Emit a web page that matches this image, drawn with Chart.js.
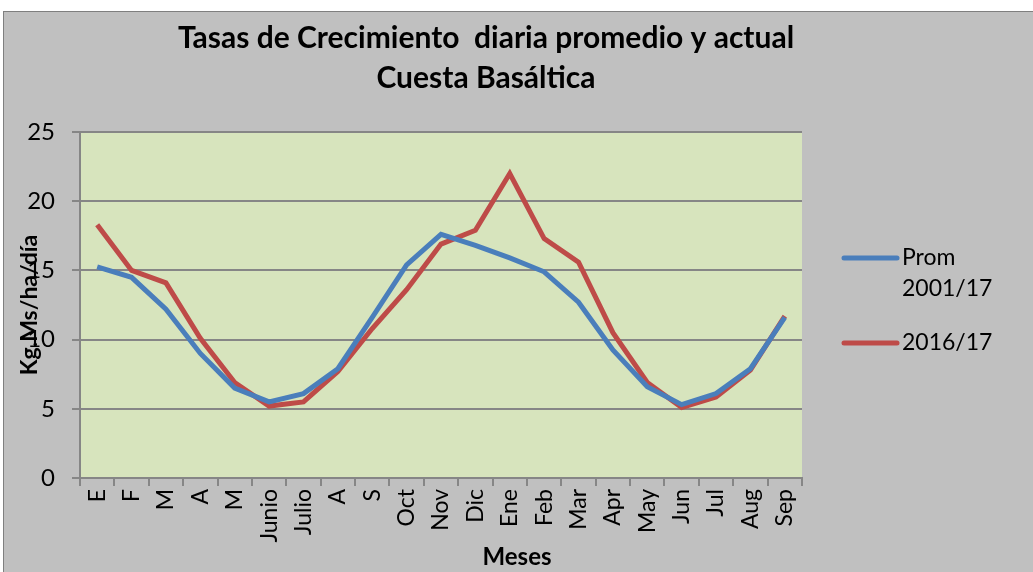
<!DOCTYPE html>
<html>
<head>
<meta charset="utf-8">
<script src="https://cdn.jsdelivr.net/npm/chart.js@4.4.1/dist/chart.umd.min.js"></script>
<style>
  html, body { margin: 0; padding: 0; background: #ffffff; }
  #frame {
    position: absolute; left: 3px; top: 11px;
    width: 1030px; height: 561px;
    border-left: 1px solid #7f7f7f; border-top: 1px solid #7f7f7f;
    background: #c0c0c0;
  }
  #chart { display: block; }
</style>
</head>
<body>
<div id="frame"><canvas id="chart" width="1030" height="561"></canvas></div>
<script>
// chart data
const months = ["E", "F", "M", "A", "M", "Junio", "Julio", "A", "S", "Oct", "Nov",
                "Dic", "Ene", "Feb", "Mar", "Apr", "May", "Jun", "Jul", "Aug", "Sep"];
const promValues = [15.25, 14.5, 12.2, 9.0, 6.5, 5.5, 6.1, 7.9, 11.6, 15.4, 17.6,
                    16.8, 15.9, 14.9, 12.7, 9.25, 6.6, 5.3, 6.1, 7.9, 11.6];
const actualValues = [18.3, 15.0, 14.1, 10.1, 6.9, 5.2, 5.5, 7.7, 10.8, 13.6, 16.9,
                      17.9, 22.0, 17.3, 15.6, 10.5, 6.9, 5.1, 5.85, 7.8, 11.7];
const yTicks = [0, 5, 10, 15, 20, 25];
const titleLines = ["Tasas de Crecimiento  diaria promedio y actual", "Cuesta Basáltica"];
const legendLabels = [["Prom", "2001/17"], ["2016/17"]];
const xTitle = "Meses";

const FONT = "Lato, 'Open Sans', sans-serif";

// plot area background + title + legend + x title drawn by hand
const decorPlugin = {
    id: "decor",
    beforeDraw(chart) {
        const ctx = chart.ctx;
        const a = chart.chartArea;
        ctx.save();
        ctx.fillStyle = "#d7e4bd";
        ctx.fillRect(a.left, a.top, a.right - a.left, a.bottom - a.top);
        ctx.restore();
    },
    afterDraw(chart) {
        const ctx = chart.ctx;
        ctx.save();
        // title
        ctx.fillStyle = "#000";
        ctx.font = "bold 30px " + FONT;
        ctx.textAlign = "center";
        ctx.textBaseline = "middle";
        titleLines.forEach((t, i) => ctx.fillText(t, 482, 26 + i * 40));

        // x axis title
        ctx.font = "bold 24px " + FONT;
        ctx.fillText(xTitle, 513, 545);

        // legend
        ctx.font = "23px " + FONT;
        ctx.textAlign = "left";
        const ys = [246, 331];
        chart.data.datasets.forEach((ds, i) => {
            ctx.strokeStyle = ds.borderColor;
            ctx.lineWidth = 5;
            ctx.lineCap = "round";
            ctx.beginPath();
            ctx.moveTo(840, ys[i]);
            ctx.lineTo(893, ys[i]);
            ctx.stroke();
            legendLabels[i].forEach((txt, j) => {
                ctx.fillText(txt, 898, ys[i] + j * 31);
            });
        });
        ctx.restore();
    }
};

const ctx = document.getElementById("chart").getContext("2d");
const chart = new Chart(ctx, {
    type: "line",
    data: {
        labels: months,
        datasets: [
            {
                label: "Prom 2001/17",
                data: promValues,
                borderColor: "#4a7ebb",
                borderWidth: 5,
                pointRadius: 0,
                tension: 0
            },
            {
                label: "2016/17",
                data: actualValues,
                borderColor: "#be4b48",
                borderWidth: 5,
                pointRadius: 0,
                tension: 0
            }
        ]
    },
    options: {
        responsive: false,
        animation: false,
        layout: { padding: { top: 120, left: 0, right: 232, bottom: 0 } },
        plugins: {
            legend: { display: false },
            title: { display: false },
            tooltip: { enabled: false }
        },
        scales: {
            x: {
                offset: true,
                grid: {
                    offset: true,
                    drawOnChartArea: false,
                    drawTicks: true,
                    tickLength: 8,
                    color: "#868686",
                    lineWidth: 2
                },
                border: { color: "#868686", width: 2 },
                ticks: {
                    color: "#000",
                    font: { family: FONT, size: 23 },
                    minRotation: 90,
                    maxRotation: 90,
                    autoSkip: false,
                    padding: 3
                },
                afterFit(scale) { scale.height = 95; }
            },
            y: {
                min: 0,
                max: 25,
                afterBuildTicks(scale) { scale.ticks = yTicks.map(v => ({ value: v })); },
                grid: {
                    color: "#868686",
                    lineWidth: 2,
                    tickLength: 8
                },
                border: { color: "#868686", width: 2 },
                ticks: {
                    color: "#000",
                    font: { family: FONT, size: 24 },
                    padding: 17
                },
                title: {
                    display: true,
                    text: "Kg.Ms/ha/día",
                    color: "#000",
                    font: { family: FONT, size: 23, weight: "bold" },
                    padding: { top: 12, bottom: 0 }
                },
                afterFit(scale) { scale.width = 76; }
            }
        }
    },
    plugins: [decorPlugin]
});
</script>
</body>
</html>
